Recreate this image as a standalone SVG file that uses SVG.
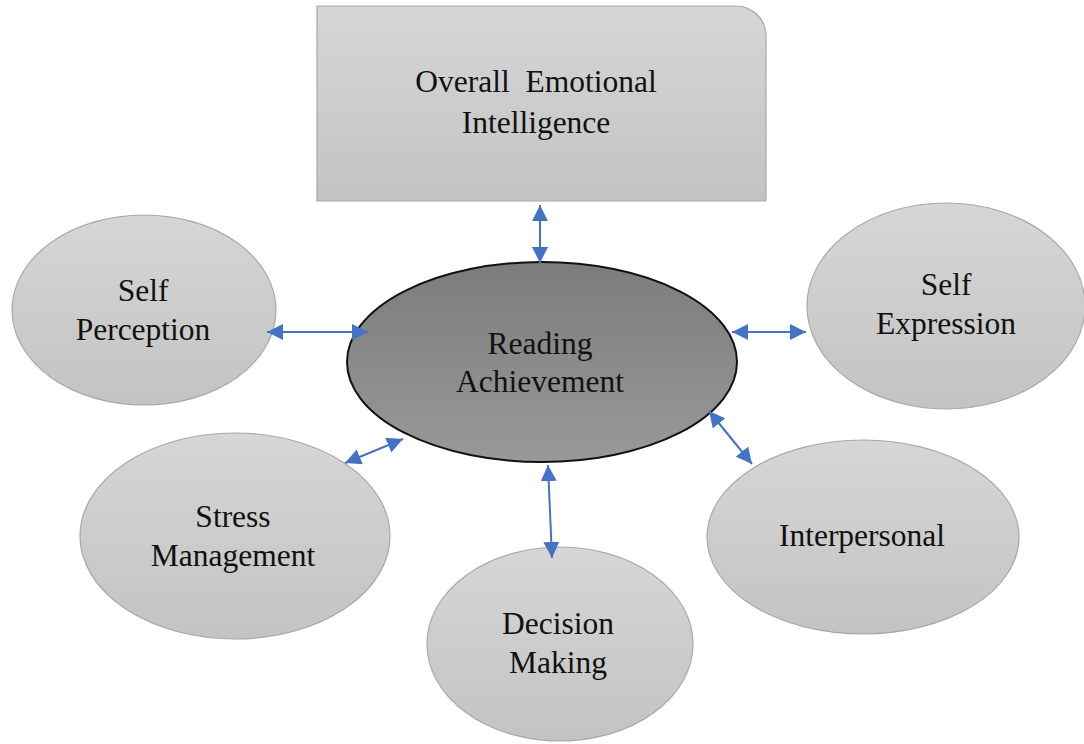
<svg xmlns="http://www.w3.org/2000/svg" width="1084" height="744" viewBox="0 0 1084 744">
  <style>
    .lbl { font-family: "Liberation Serif", "Times New Roman", serif; font-size: 31.5px; fill: #111; text-anchor: middle; white-space: pre; }
    .outer { fill: url(#lightGrad); stroke: #a8a8a8; stroke-width: 1.2; }
    .link { stroke: #4472c4; stroke-width: 2; fill: none; marker-start: url(#head); marker-end: url(#head); }
  </style>
  <defs>
    <linearGradient id="lightGrad" x1="0" y1="0" x2="0" y2="1">
      <stop offset="0" stop-color="#d6d6d6"/>
      <stop offset="1" stop-color="#c3c3c3"/>
    </linearGradient>
    <linearGradient id="darkGrad" x1="0" y1="0" x2="0" y2="1">
      <stop offset="0" stop-color="#7c7c7c"/>
      <stop offset="1" stop-color="#999999"/>
    </linearGradient>
    <marker id="head" viewBox="0 0 10 10" refX="10" refY="5" markerWidth="8" markerHeight="8" markerUnits="strokeWidth" orient="auto-start-reverse">
      <path d="M0,0 L10,5 L0,10 Z" fill="#4472c4"/>
    </marker>
  </defs>

  <rect width="1084" height="744" fill="#ffffff"/>

  <g id="overall-ei">
    <path class="outer" d="M317,6 H736 A30,30 0 0 1 766,36 V201 H317 Z"/>
    <text class="lbl" x="536" y="92" xml:space="preserve">Overall  Emotional</text>
    <text class="lbl" x="536" y="133">Intelligence</text>
  </g>

  <g id="reading-achievement">
    <ellipse cx="542" cy="362" rx="195" ry="100" fill="url(#darkGrad)" stroke="#111" stroke-width="2"/>
    <text class="lbl" x="540" y="354">Reading</text>
    <text class="lbl" x="540" y="392">Achievement</text>
  </g>

  <g id="self-perception">
    <ellipse class="outer" cx="144" cy="310" rx="132" ry="95"/>
    <text class="lbl" x="143" y="301">Self</text>
    <text class="lbl" x="143" y="340">Perception</text>
  </g>

  <g id="self-expression">
    <ellipse class="outer" cx="946" cy="306" rx="139" ry="103"/>
    <text class="lbl" x="946" y="295">Self</text>
    <text class="lbl" x="946" y="334">Expression</text>
  </g>

  <g id="stress-management">
    <ellipse class="outer" cx="235" cy="536" rx="155" ry="103"/>
    <text class="lbl" x="233" y="527">Stress</text>
    <text class="lbl" x="233" y="566">Management</text>
  </g>

  <g id="interpersonal">
    <ellipse class="outer" cx="863" cy="537" rx="156" ry="97"/>
    <text class="lbl" x="862" y="546">Interpersonal</text>
  </g>

  <g id="decision-making">
    <ellipse class="outer" cx="560" cy="644" rx="133" ry="97"/>
    <text class="lbl" x="558" y="634">Decision</text>
    <text class="lbl" x="558" y="673">Making</text>
  </g>

  <!-- connectors, drawn over the shapes -->
  <g id="connectors">
    <line class="link" x1="540" y1="205" x2="540" y2="263"/>
    <line class="link" x1="267" y1="332" x2="368" y2="332"/>
    <line class="link" x1="345" y1="463" x2="403" y2="439"/>
    <line class="link" x1="732" y1="332" x2="806" y2="332"/>
    <line class="link" x1="709" y1="411" x2="752" y2="464"/>
    <line class="link" x1="548" y1="465" x2="552" y2="558"/>
  </g>
</svg>
